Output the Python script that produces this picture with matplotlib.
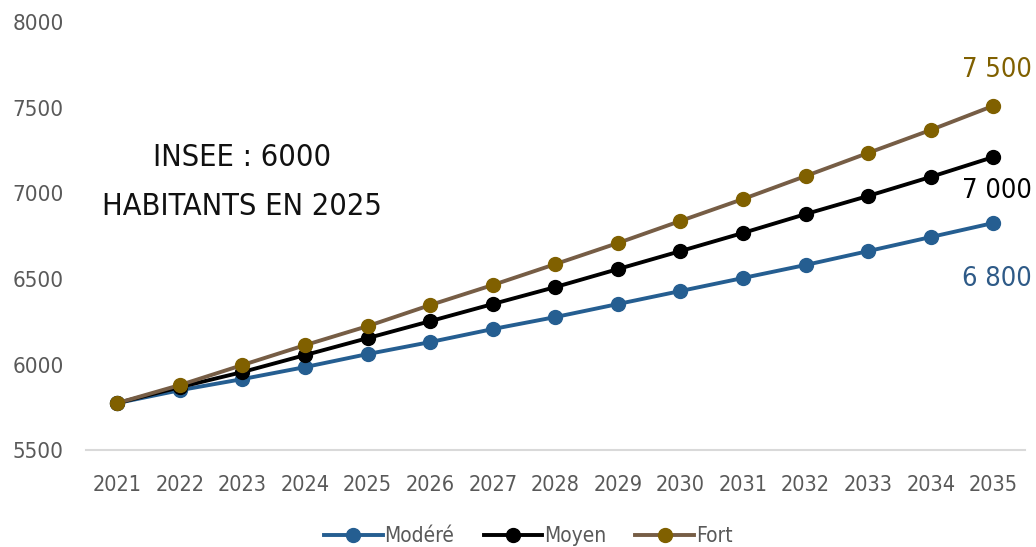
import numpy as np
import matplotlib.pyplot as plt

years = [2021, 2022, 2023, 2024, 2025, 2026, 2027, 2028,
         2029, 2030, 2031, 2032, 2033, 2034, 2035]
modere = [5775, 5850, 5915, 5985, 6061, 6131, 6207, 6277,
          6353, 6429, 6505, 6581, 6662, 6744, 6826]
moyen = [5775, 5868, 5956, 6055, 6154, 6253, 6353, 6452,
         6557, 6662, 6768, 6878, 6984, 7095, 7211]
fort = [5775, 5880, 5997, 6113, 6224, 6347, 6464, 6586,
        6709, 6838, 6966, 7100, 7235, 7369, 7510]
end_labels = ["6 800", "7 000", "7 500"]

fam = ['DejaVu Sans']
cond = 'condensed'
grey = '#595959'

fig = plt.figure(figsize=(10.36, 5.47), dpi=100)
ax = fig.add_axes([0.083, 0.177, 0.906, 0.783])

x = np.arange(len(years))
series = [
    ("Modéré", modere, '#255e91', '#255e91'),
    ("Moyen", moyen, 'black', 'black'),
    ("Fort", fort, '#765d45', '#806000'),
]
for name, vals, lc, mc in series:
    ax.plot(x, vals, color=lc, lw=2.8, marker='o', ms=10,
            mfc=mc, mec=mc, label=name)

# end labels
for txt, yv, col in [(end_labels[2], 7720, '#806000'),
                     (end_labels[1], 7010, 'black'),
                     (end_labels[0], 6500, '#2e5a87')]:
    ax.text(x[-1] + 0.62, yv, txt, color=col, fontsize=19.5, family=fam,
            stretch=cond, ha='right', va='center')

# note
ax.text(2.0, 7210, "INSEE : 6000", fontsize=22, family=fam, stretch=cond,
        ha='center', va='center', color='#111111')
ax.text(2.0, 6925, "HABITANTS EN 2025", fontsize=22, family=fam, stretch=cond,
        ha='center', va='center', color='#111111')

ax.set_xlim(-0.5, len(years) - 0.5)
ax.set_ylim(5500, 8000)
ax.set_yticks([5500, 6000, 6500, 7000, 7500, 8000])
ax.set_xticks(x)
ax.set_xticklabels([str(y) for y in years])
for lab in ax.get_xticklabels() + ax.get_yticklabels():
    lab.set_family(fam)
    lab.set_stretch(cond)
    lab.set_fontsize(15.5)
    lab.set_color(grey)
for lab in ax.get_yticklabels():
    lab.set_fontsize(16)
ax.tick_params(axis='both', length=0)
ax.tick_params(axis='y', pad=16)
ax.tick_params(axis='x', pad=18)

for s in ['top', 'right', 'left']:
    ax.spines[s].set_visible(False)
ax.spines['bottom'].set_color('#d9d9d9')
ax.spines['bottom'].set_linewidth(1.5)

leg = fig.legend(loc='lower center', bbox_to_anchor=(0.51, -0.033), ncol=3,
                 frameon=False, handlelength=2.8, handletextpad=0.1,
                 columnspacing=1.4,
                 prop={'family': fam, 'stretch': cond, 'size': 15})
for t in leg.get_texts():
    t.set_color(grey)

fig.savefig("out.png", dpi=100)
